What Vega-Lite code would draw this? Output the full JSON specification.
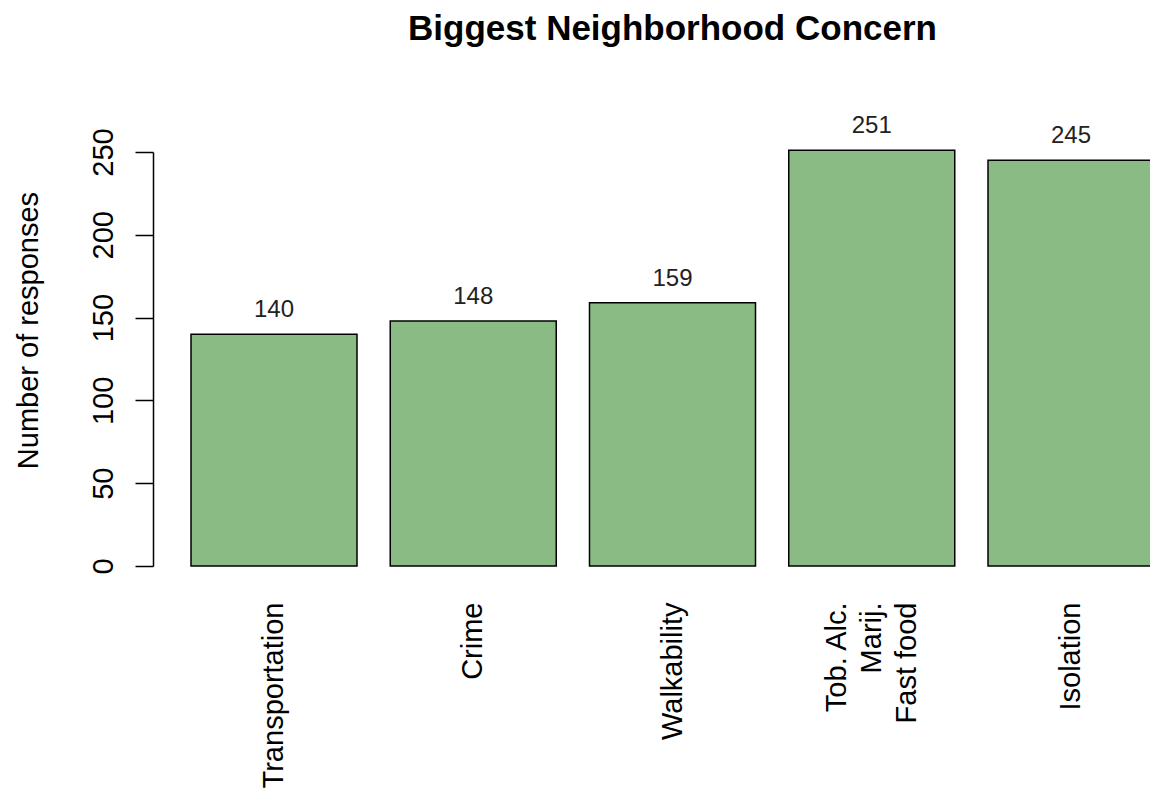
{
  "$schema": "https://vega.github.io/schema/vega-lite/v6.json",
  "width": 997,
  "height": 414,
  "autosize": {"type": "none"},
  "padding": {"left": 153, "top": 152, "right": 0, "bottom": 225},
  "background": "white",
  "config": {
    "view": {"stroke": null},
    "font": "Liberation Sans"
  },
  "title": {
    "text": "Biggest Neighborhood Concern",
    "fontSize": 35,
    "fontWeight": "bold",
    "font": "Liberation Sans",
    "color": "black",
    "anchor": "middle",
    "baseline": "alphabetic",
    "offset": 39,
    "dx": 21
  },
  "data": {
    "values": [
      {"concern": "Transportation", "count": 140},
      {"concern": "Crime", "count": 148},
      {"concern": "Walkability", "count": 159},
      {"concern": "Tob. Alc.|Marij.|Fast food", "count": 251},
      {"concern": "Isolation", "count": 245}
    ]
  },
  "encoding": {
    "x": {
      "field": "concern",
      "type": "nominal",
      "sort": null,
      "scale": {"range": [0, 1039], "paddingInner": 0.1669, "paddingOuter": 0.1907},
      "axis": {
        "title": null,
        "domain": false,
        "ticks": false,
        "tickSize": 0,
        "labelAngle": -90,
        "labelAlign": "right",
        "labelBaseline": "middle",
        "labelPadding": 36,
        "labelFontSize": 29,
        "labelColor": "black",
        "labelLineHeight": 35,
        "labelOffset": {"condition": {"test": "indexof(datum.value, '|') >= 0", "value": -35}, "value": 0},
        "labelExpr": "split(datum.label, '|')",
        "labelOverlap": false,
        "labelLimit": 0
      }
    },
    "y": {
      "field": "count",
      "type": "quantitative",
      "scale": {"domain": [0, 250], "nice": false, "zero": true},
      "axis": {
        "title": "Number of responses",
        "titleFontSize": 29,
        "titleFontWeight": "normal",
        "titleColor": "black",
        "titleAngle": -90,
        "titleAlign": "center",
        "titleBaseline": "middle",
        "titleX": -125,
        "titleY": 178,
        "values": [0, 50, 100, 150, 200, 250],
        "grid": false,
        "domainColor": "black",
        "domainWidth": 1.5,
        "tickColor": "black",
        "tickWidth": 1.5,
        "tickSize": 18,
        "labelAngle": -90,
        "labelAlign": "center",
        "labelBaseline": "alphabetic",
        "labelPadding": 23,
        "labelFontSize": 29,
        "labelColor": "black",
        "labelFlush": false,
        "labelOverlap": false
      }
    }
  },
  "layer": [
    {
      "mark": {"type": "bar", "fill": "#8BBB85", "stroke": "black", "strokeWidth": 1.5}
    },
    {
      "mark": {"type": "text", "fontSize": 24, "baseline": "alphabetic", "dy": -17, "color": "#222222"},
      "encoding": {"text": {"field": "count", "type": "quantitative"}}
    }
  ]
}
